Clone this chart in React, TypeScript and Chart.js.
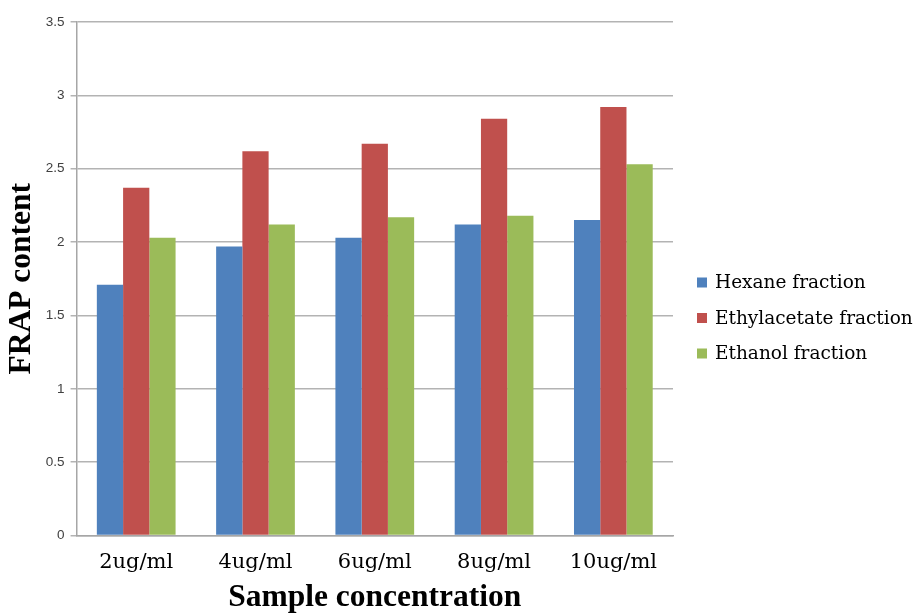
import React, { useEffect, useRef } from "react";
import { Chart, registerables } from "chart.js";

Chart.register(...registerables);

const categories = ["2ug/ml", "4ug/ml", "6ug/ml", "8ug/ml", "10ug/ml"];
const hexane = [1.71, 1.97, 2.03, 2.12, 2.15];
const ethylacetate = [2.37, 2.62, 2.67, 2.84, 2.92];
const ethanol = [2.03, 2.12, 2.17, 2.18, 2.53];

const seriesNames = ["Hexane fraction", "Ethylacetate fraction", "Ethanol fraction"];
const seriesColors = ["#4F81BD", "#C0504D", "#9BBB59"];

const serif = "'DejaVu Serif', serif";
const serifBold = "'Liberation Serif', 'Times New Roman', serif";

// Legend drawn to the right of the plot area, one row per series.
const sideLegend = {
  id: "sideLegend",
  afterDraw(chart: any) {
    const { ctx, chartArea } = chart;
    const x0 = chartArea.right + 24;
    const cy = chart.height / 2 + 11;
    const rowGap = 35.5;
    ctx.save();
    ctx.font = `18.5px ${serif}`;
    ctx.textBaseline = "middle";
    ctx.textAlign = "left";
    chart.data.datasets.forEach((ds: any, i: number) => {
      const y = cy + (i - 1) * rowGap;
      ctx.fillStyle = ds.backgroundColor;
      ctx.fillRect(x0, y - 5, 10, 10);
      ctx.fillStyle = "#000";
      ctx.fillText(ds.label, x0 + 18, y + 1);
    });
    ctx.restore();
  },
};

export default function App() {
  const ref = useRef<HTMLCanvasElement | null>(null);

  useEffect(() => {
    if (!ref.current) return;
    const values = [hexane, ethylacetate, ethanol];
    const chart = new Chart(ref.current, {
      type: "bar",
      data: {
        labels: categories,
        datasets: values.map((v, i) => ({
          label: seriesNames[i],
          data: v,
          backgroundColor: seriesColors[i],
          borderWidth: 0,
          categoryPercentage: 0.66,
          barPercentage: 1,
        })),
      },
      plugins: [sideLegend],
      options: {
        responsive: false,
        animation: false,
        layout: { padding: { top: 22, left: 3, right: 242, bottom: 0 } },
        plugins: {
          tooltip: { enabled: false },
          legend: { display: false },
        },
        scales: {
          x: {
            grid: { display: false, drawTicks: false },
            border: { color: "#a6a6a6", width: 1.5 },
            ticks: { color: "#000", font: { family: serif, size: 21 }, padding: 14.7 },
            title: {
              display: true,
              text: "Sample concentration",
              color: "#000",
              font: { family: serifBold, size: 31.5, weight: "bold" },
              padding: { top: -11, bottom: -3 },
            },
          },
          y: {
            min: 0,
            max: 3.5,
            ticks: {
              stepSize: 0.5,
              color: "#404040",
              font: { family: "'Liberation Sans', Arial, sans-serif", size: 13.5 },
              padding: 6,
              callback: (v: any) => String(Number(v)),
            },
            grid: { color: "#b3b3b3", lineWidth: 1.5, tickLength: 6 },
            border: { color: "#a6a6a6", width: 1.5 },
            title: {
              display: true,
              text: "FRAP content",
              color: "#000",
              font: { family: serifBold, size: 31.5, weight: "bold" },
              padding: { top: 0, bottom: -1 },
            },
          },
        },
      },
    });
    return () => chart.destroy();
  }, []);

  return (
    <div style={{ position: "absolute", left: 0, top: 0, width: 915, height: 614, background: "#fff" }}>
      <canvas ref={ref} width={915} height={614} />
    </div>
  );
}
